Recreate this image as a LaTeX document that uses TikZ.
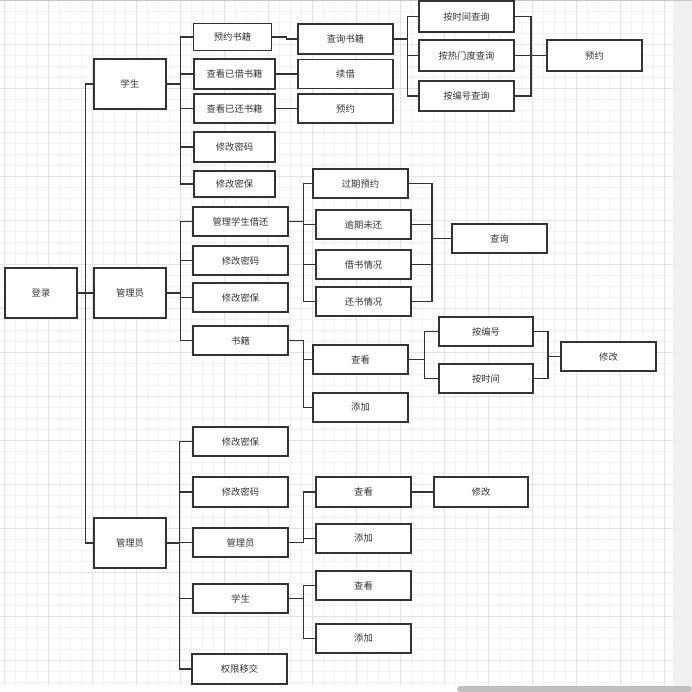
\documentclass[tikz,border=0pt]{standalone}
\usepackage{fontspec}
\setmainfont{Noto Sans CJK SC}
\definecolor{linec}{HTML}{333333}
\definecolor{txtc}{HTML}{333333}
\definecolor{minorc}{HTML}{F1F1F1}
\definecolor{majorc}{HTML}{E2E2E2}

\begin{document}
\begin{tikzpicture}[x=1pt,y=-1pt,
    box/.style={draw=linec,line width=1.2pt,fill=white,inner sep=0pt,
      minimum width=95pt,minimum height=29pt,text=txtc,font=\fontsize{9.3}{11}\selectfont},
    big/.style={box,minimum width=72pt,minimum height=50pt},
    link/.style={draw=linec,line width=1.2pt},
    minorgrid/.style={draw=minorc,line width=0.5pt},
    majorgrid/.style={draw=majorc,line width=0.6pt}]
        \useasboundingbox (0,0) rectangle (692,692);
        % background grid
        \foreach \i in {0,...,60} \draw[minorgrid] ({4+11*\i},0) -- ({4+11*\i},686);
        \foreach \i in {1,...,62} \draw[minorgrid] (0,{11*\i}) -- (673,{11*\i});
        \foreach \i in {0,...,15} \draw[majorgrid] ({4+44*\i},0) -- ({4+44*\i},686);
        \foreach \i in {1,...,15} \draw[majorgrid] (0,{44*\i}) -- (673,{44*\i});
        \fill[black!6] (673,0) rectangle (692,692);
        \fill[black!22] (0,0) rectangle (692,1.2);
        \fill[black!25,rounded corners=3pt] (457,686) rectangle (692,692);
        % nodes
        \node[big] (login) at (41,293) {登录};
        \node[big] (stu) at (130,84) {学生};
        \node[big] (adm) at (130,293) {管理员};
        \node[big] (sadm) at (130,543) {管理员};
        \node[box,minimum width=78pt,minimum height=27pt] (s1) at (232.5,37) {预约书籍};
        \node[box,minimum width=81pt,minimum height=30pt] (s2) at (234.5,74) {查看已借书籍};
        \node[box,minimum width=81pt] (s3) at (234.5,108.5) {查看已还书籍};
        \node[box,minimum width=81pt,minimum height=30pt] (s4) at (234.5,147) {修改密码};
        \node[box,minimum width=81pt,minimum height=26pt] (s5) at (234.5,184) {修改密保};
        \node[box,minimum height=30pt] (q1) at (345.5,39) {查询书籍};
        \node[box] (q2) at (345.5,74) {续借};
        \node[box] (q3) at (345.5,108.5) {预约};
        \node[box,minimum height=31pt] (t1) at (466.5,16.5) {按时间查询};
        \node[box,minimum height=31pt] (t2) at (466.5,55.5) {按热门度查询};
        \node[box,minimum height=30pt] (t3) at (466.5,96) {按编号查询};
        \node[box,minimum height=31pt] (yy) at (594.5,55.5) {预约};
        \node[box] (m1) at (240.5,221.5) {管理学生借还};
        \node[box] (m2) at (240.5,260.5) {修改密码};
        \node[box] (m3) at (240.5,297.5) {修改密保};
        \node[box] (m4) at (240.5,340.5) {书籍};
        \node[box] (g1) at (360.5,183.5) {过期预约};
        \node[box] (g2) at (363.5,224.5) {逾期未还};
        \node[box] (g3) at (363.5,264.5) {借书情况};
        \node[box] (g4) at (363.5,301.5) {还书情况};
        \node[box] (cx) at (499.5,238.5) {查询};
        \node[box] (b1) at (360.5,359.5) {查看};
        \node[box] (b2) at (360.5,407.5) {添加};
        \node[box,minimum width=94pt] (k1) at (486,331.5) {按编号};
        \node[box,minimum width=94pt] (k2) at (486,378.5) {按时间};
        \node[box] (kx) at (608.5,356.5) {修改};
        \node[box] (r1) at (240.5,441.5) {修改密保};
        \node[box,minimum height=30pt] (r2) at (240.5,492) {修改密码};
        \node[box] (r3) at (240.5,542.5) {管理员};
        \node[box] (r4) at (240.5,598.5) {学生};
        \node[box,minimum height=30pt] (r5) at (239.5,669) {权限移交};
        \node[box,minimum height=30pt] (n1) at (363.5,492) {查看};
        \node[box] (n2) at (363.5,538.5) {添加};
        \node[box,minimum width=94pt,minimum height=30pt] (n3) at (481,492) {修改};
        \node[box] (p1) at (363.5,585.5) {查看};
        \node[box] (p2) at (363.5,638.5) {添加};
        \coordinate (yym) at (531,55.5);
        \coordinate (cxm) at (432,238.5);
        \coordinate (kxm) at (548,356.5);
        % connectors
        \foreach \c in {stu,adm,sadm} \draw[link] (login.east) -- ++(8,0) |- (\c.west);
        \foreach \c in {s1,s2,s3,s4,s5} \draw[link] (stu.east) -- ++(14,0) |- (\c.west);
        \draw[link] (s1.east) -- ++(14,0) |- (q1.west);
        \draw[link] (s2.east) -- (q2.west);
        \draw[link] (s3.east) -- (q3.west);
        \foreach \c in {t1,t2,t3} \draw[link] (q1.east) -- ++(14,0) |- (\c.west);
        \foreach \c in {t1,t2,t3} \draw[link] (\c.east) -| (yym) -- (yy.west);
        \foreach \c in {m1,m2,m3,m4} \draw[link] (adm.east) -- ++(14,0) |- (\c.west);
        \foreach \c in {g1,g2,g3,g4} \draw[link] (m1.east) -- ++(15,0) |- (\c.west);
        \foreach \c in {g1,g2,g3,g4} \draw[link] (\c.east) -| (cxm) -- (cx.west);
        \foreach \c in {b1,b2} \draw[link] (m4.east) -- ++(15,0) |- (\c.west);
        \foreach \c in {k1,k2} \draw[link] (b1.east) -- ++(16,0) |- (\c.west);
        \foreach \c in {k1,k2} \draw[link] (\c.east) -| (kxm) -- (kx.west);
        \foreach \c in {r1,r2,r3,r4,r5} \draw[link] (sadm.east) -- ++(13,0) |- (\c.west);
        \foreach \c in {n1,n2} \draw[link] (r3.east) -- ++(15,0) |- (\c.west);
        \draw[link] (n1.east) -- (n3.west);
        \foreach \c in {p1,p2} \draw[link] (r4.east) -- ++(15,0) |- (\c.west);
    \end{tikzpicture}
\end{document}
